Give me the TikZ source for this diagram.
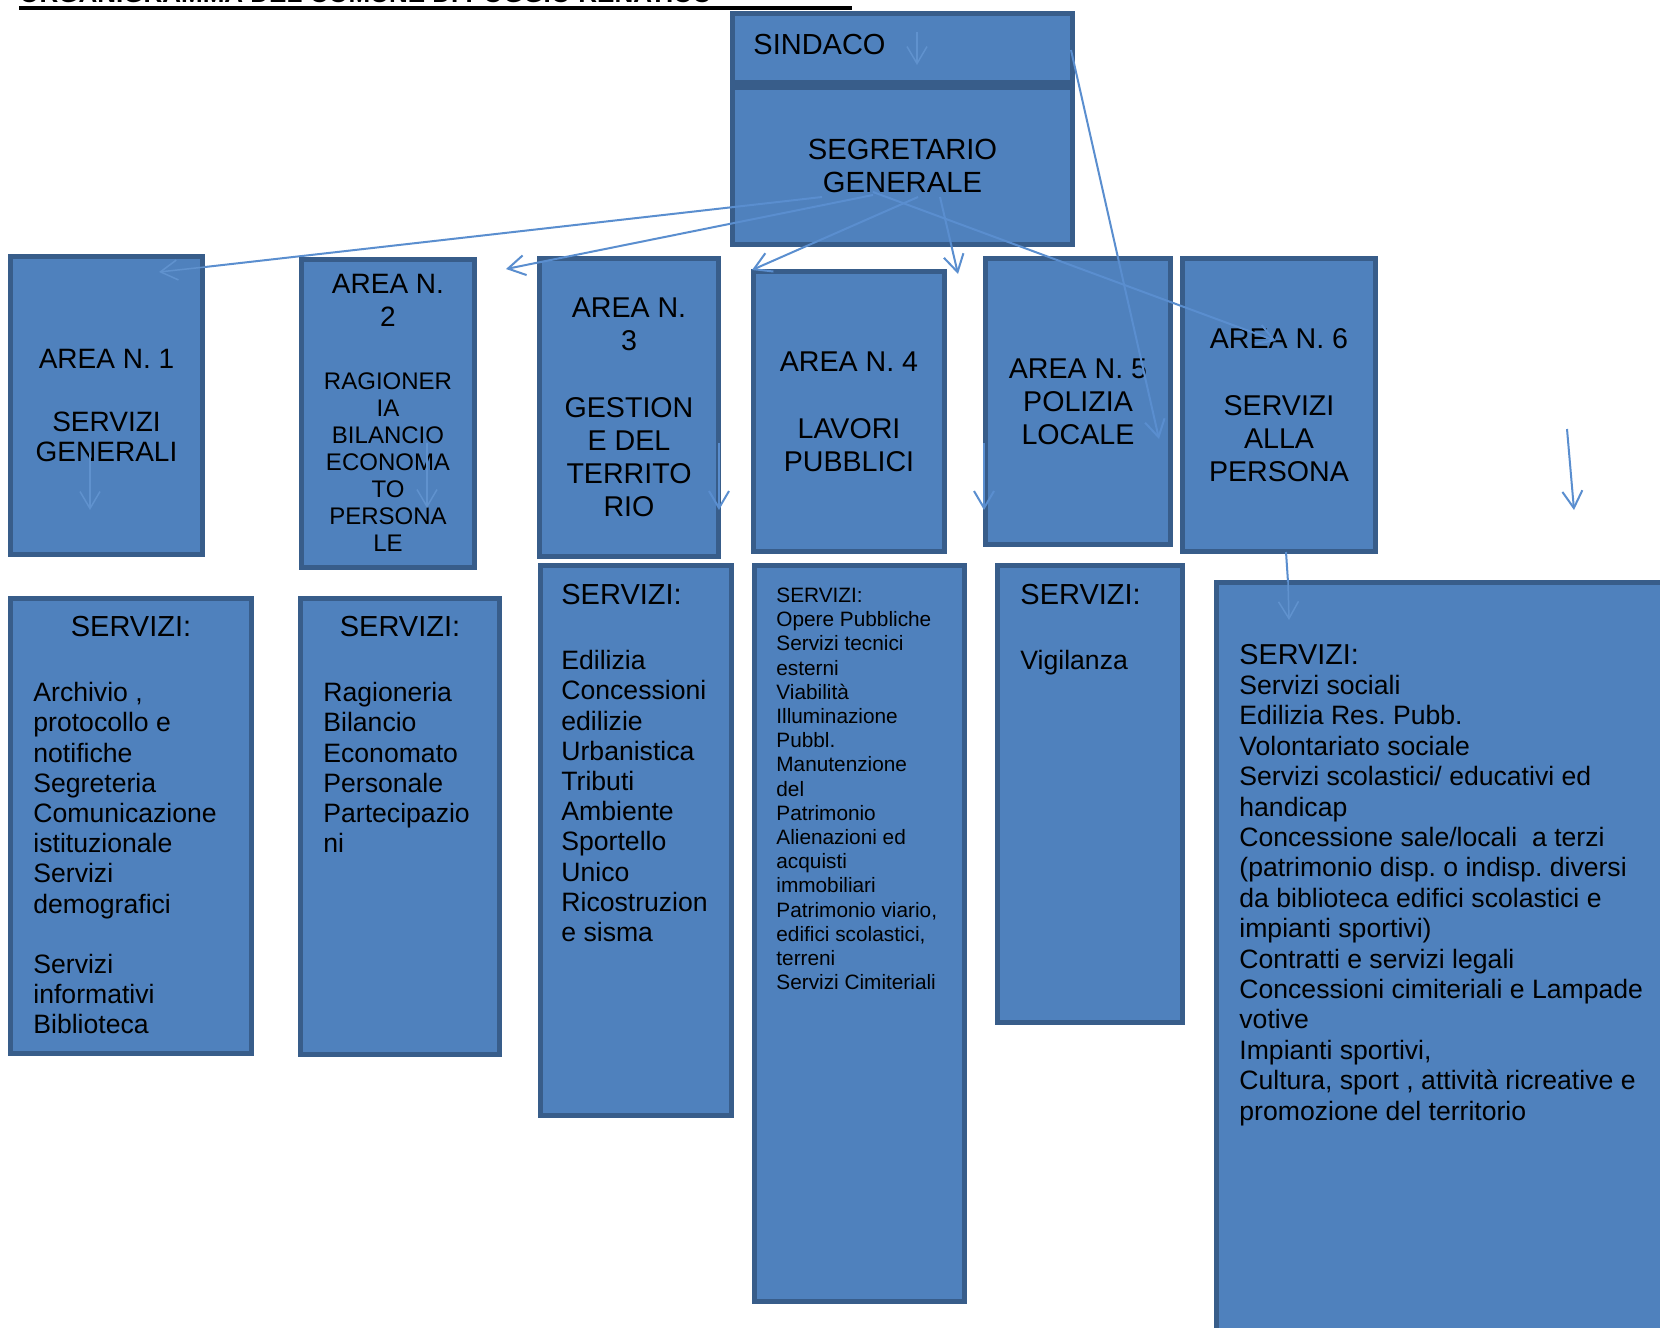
\documentclass[tikz,border=0pt]{standalone}
\usepackage{fontspec}
\setmainfont{Liberation Sans}
\usetikzlibrary{arrows.meta}
\definecolor{boxfill}{HTML}{4F81BD}
\definecolor{boxdraw}{HTML}{385D8A}
\definecolor{linec}{HTML}{5A8ECF}
\definecolor{faintc}{HTML}{6092CE}
\newcommand\areasmall[1]{{\fontsize{12}{13.5}\selectfont #1}}
\newcommand\hdrsize[1]{{\fontsize{14.4}{15.2}\selectfont #1}}
\frenchspacing
\begin{document}
\begin{tikzpicture}[x=0.5pt,y=-0.5pt,
  orgbox/.style={draw=boxdraw, fill=boxfill, line width=2.5pt, rectangle, inner sep=0pt, text=black, align=center},
  areafont/.style={font=\fontsize{14.3}{16.5}\selectfont},
  hdr/.style={font=\fontsize{14.5}{16}\selectfont, inner sep=0pt, text=black},
  items/.style={font=\fontsize{13.3}{15.1}\selectfont, inner sep=0pt, text=black, align=left, anchor=north west},
  conn/.style={draw=linec, line width=1pt, -{Straight Barb[length=8.5pt,width=10pt]}},
  connplain/.style={draw=linec, line width=1pt},
  faint/.style={draw=faintc, line width=0.75pt, -{Straight Barb[length=8.5pt,width=10pt]}},
]
\useasboundingbox (0,0) rectangle (1660,1328);
\fill[white] (0,0) rectangle (1660,1328);

% title (cut off at the top edge, as in the reference)
\node[anchor=base west, inner sep=0pt, font=\bfseries\fontsize{13}{15}\selectfont] (title) at (19,2.5) {ORGANIGRAMMA DEL COMUNE DI POGGIO RENATICO};
\draw[line width=2pt] (19,7.5) -- (852,7.5);

% top boxes
\node[orgbox, minimum width=170pt, minimum height=34.5pt] (sind) at (902.5,48) {};
\node[hdr, anchor=west] (sindtxt) at (753,45) {SINDACO};
\node[orgbox, font=\fontsize{14.6}{16.5}\selectfont, minimum width=170pt, minimum height=78.5pt] (segr) at (902.5,166) {SEGRETARIO\\GENERALE};

% coordinates of connectors
\coordinate (k1) at (917,32);  \coordinate (k2) at (917,65);
\coordinate (g1) at (822,197); \coordinate (e1) at (205,267); \coordinate (t1) at (159,272);
\coordinate (g2) at (873,195); \coordinate (t2) at (506,269);
\coordinate (g3) at (918,197); \coordinate (t3) at (752,270);
\coordinate (g4) at (940,197); \coordinate (t4) at (958,274);
\coordinate (g5) at (873,192); \coordinate (t5) at (1276,341);
\coordinate (d6) at (1071,50); \coordinate (t6) at (1159,439);
\coordinate (a1s) at (90,453); \coordinate (a1t) at (90,510);
\coordinate (a2s) at (427,443); \coordinate (a2t) at (427,508);
\coordinate (v1s) at (719,443); \coordinate (v1t) at (719,510);
\coordinate (v2s) at (984,443); \coordinate (v2t) at (984,510);
\coordinate (v3s) at (1567,429); \coordinate (v3t) at (1574,510);
\coordinate (q1) at (1286,552); \coordinate (q2) at (1288,582); \coordinate (q3) at (1289,620);

\draw[faint] (k1) -- (k2);
\draw[connplain] (g1) -- (e1);

% area boxes
\node[orgbox, font=\fontsize{14}{15.4}\selectfont, minimum width=96pt, minimum height=149pt] (area1) at (106.5,405.5) {AREA N. 1\\[16pt]SERVIZI\\GENERALI};
\node[orgbox, font=\fontsize{14}{13.5}\selectfont, minimum width=86.5pt, minimum height=154pt] (area2) at (388,413) {AREA N.\\[3pt]2\\[18pt]\areasmall{RAGIONER}\\\areasmall{IA}\\\areasmall{BILANCIO}\\\areasmall{ECONOMA}\\\areasmall{TO}\\\areasmall{PERSONA}\\\areasmall{LE}};
\node[orgbox, areafont, minimum width=89.5pt, minimum height=149pt] (area3) at (629,407.5) {AREA N.\\3\\[17pt]GESTION\\E DEL\\TERRITO\\RIO};
\node[orgbox, areafont, minimum width=95.5pt, minimum height=140pt] (area4) at (849,411.5) {AREA N. 4\\[17pt]LAVORI\\PUBBLICI};
\node[orgbox, areafont, minimum width=92.5pt, minimum height=143pt] (area5) at (1078,401.5) {AREA N. 5\\POLIZIA\\LOCALE};
\node[orgbox, areafont, minimum width=96.5pt, minimum height=146.5pt] (area6) at (1279,405) {AREA N. 6\\[16.75pt]SERVIZI\\ALLA\\PERSONA};

% service boxes
\node[orgbox, minimum width=120.5pt, minimum height=227.5pt] (serv1) at (131,826) {};
\node[orgbox, minimum width=99.5pt, minimum height=228pt] (serv2) at (400,826.5) {};
\node[orgbox, minimum width=95.5pt, minimum height=275pt] (serv3) at (636,840.5) {};
\node[orgbox, minimum width=105pt, minimum height=368pt] (serv4) at (859.5,933.5) {};
\node[orgbox, minimum width=92.5pt, minimum height=228.5pt] (serv5) at (1090,794) {};
\node[orgbox, minimum width=240.5pt, minimum height=387.5pt] (serv6) at (1457,970) {};

% service texts
\node[hdr] (s1h) at (131,627) {SERVIZI:};
\node[items] (s1i) at (33,682) {Archivio ,\\protocollo e\\notifiche\\Segreteria\\Comunicazione\\istituzionale\\Servizi\\demografici\\[15.1pt]Servizi\\informativi\\Biblioteca};
\node[hdr] (s2h) at (400,627) {SERVIZI:};
\node[items] (s2i) at (323,682) {Ragioneria\\Bilancio\\Economato\\Personale\\Partecipazio\\ni};
\node[hdr, anchor=west] (s3h) at (561,595) {SERVIZI:};
\node[items] (s3i) at (561,650) {Edilizia\\Concessioni\\edilizie\\Urbanistica\\Tributi\\Ambiente\\Sportello\\Unico\\Ricostruzion\\e sisma};
\node[items, font=\fontsize{10.4}{12.1}\selectfont] (s4i) at (776,587.5) {SERVIZI:\\Opere Pubbliche\\Servizi tecnici\\esterni\\Viabilità\\Illuminazione\\Pubbl.\\Manutenzione\\del\\Patrimonio\\Alienazioni ed\\acquisti\\immobiliari\\Patrimonio viario,\\edifici scolastici,\\terreni\\Servizi Cimiteriali};
\node[hdr, anchor=west] (s5h) at (1020,595) {SERVIZI:};
\node[items] (s5i) at (1020,650) {Vigilanza};
\node[items, font=\fontsize{13.3}{15.2}\selectfont] (s6i) at (1239,643.5) {\hdrsize{SERVIZI:}\\Servizi sociali\\Edilizia Res. Pubb.\\Volontariato sociale\\Servizi scolastici/ educativi ed\\handicap\\Concessione sale/locali\ \ a terzi\\(patrimonio disp. o indisp. diversi\\da biblioteca edifici scolastici e\\impianti sportivi)\\Contratti e servizi legali\\Concessioni cimiteriali e Lampade\\votive\\Impianti sportivi,\\Cultura, sport , attività ricreative e\\promozione del territorio};

% faint (behind-looking) connectors
\draw[faint] (e1) -- (t1);
\draw[faint] (a1s) -- (a1t);
\draw[faint] (a2s) -- (a2t);
\draw[faint] (q2) -- (q3);

% visible connectors
\draw[conn] (g2) -- (t2);
\draw[conn] (g3) -- (t3);
\draw[conn] (g4) -- (t4);
\draw[conn] (g5) -- (t5);
\draw[conn] (d6) -- (t6);
\draw[conn] (v1s) -- (v1t);
\draw[conn] (v2s) -- (v2t);
\draw[conn] (v3s) -- (v3t);
\draw[connplain] (q1) -- (q2);
\end{tikzpicture}
\end{document}
